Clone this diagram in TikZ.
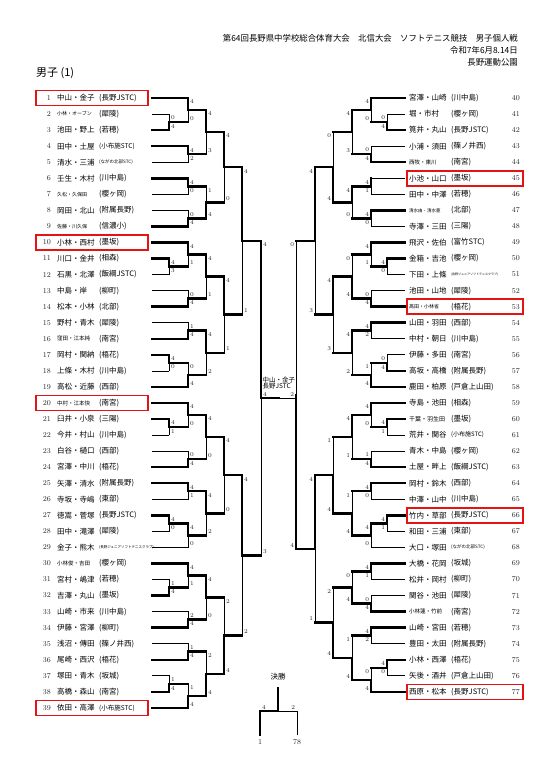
\documentclass[tikz,border=0pt]{standalone}
\usepackage{fontspec}
\newfontfamily\jp{Noto Sans CJK JP}
\usetikzlibrary{calc}
\newcommand\fz[1]{\fontsize{#1}{#1}\selectfont}
\definecolor{boxred}{RGB}{228,20,20}
\tikzset{
  thk/.style={line width=2.5pt, line cap=rect},
  thn/.style={line width=0.7pt, line cap=rect},
  sc/.style={inner sep=0pt, font=\fz{6}, text=black!85},
  scLT/.style={sc, anchor=north west, xshift=1.8pt, yshift=-1.6pt},
  scLB/.style={sc, anchor=south west, xshift=1.8pt, yshift=1.6pt},
  scRT/.style={sc, anchor=north east, xshift=-1.8pt, yshift=-1.6pt},
  scRB/.style={sc, anchor=south east, xshift=-1.8pt, yshift=1.6pt},
  nametxt/.style={anchor=west, inner sep=0pt, font=\jp\fz{7.5}},
  numtxt/.style={inner sep=0pt, font=\fz{7.5}, text=black!85},
  redbox/.style={draw=boxred, line width=1.6pt},
  hdr/.style={anchor=east, inner sep=0pt, font=\jp\fz{8.4}}
}
% match: name, top feeder, bottom feeder, x of vertical, top score, bottom score, top feed style, bottom feed style, side
\newcommand\mt[9]{%
  \coordinate (#1v) at (#4,0);
  \coordinate (#1a) at (#2 -| #1v);
  \coordinate (#1b) at (#3 -| #1v);
  \coordinate (#1) at ($(#1a)!0.5!(#1b)$);
  \draw[#7] (#2) -- (#1a);
  \draw[#8] (#3) -- (#1b);
  \ifnum#5>#6\relax
    \draw[thk] (#1a) -- (#1); \draw[thn] (#1) -- (#1b);
  \else
    \draw[thn] (#1a) -- (#1); \draw[thk] (#1) -- (#1b);
  \fi
  \node[sc#9T] (#1st) at (#1a) {#5};
  \node[sc#9B] (#1sb) at (#1b) {#6};
}
\newcommand\lent[3]{%
  \node[numtxt, anchor=east] (nL#1) at ($(L#1)+(-101,0)$) {#1};
  \node[nametxt] (tL#1) at ($(L#1)+(-95,0)$) {#2};
  \node[nametxt] (aL#1) at ($(L#1)+(-53,0)$) {#3};
}
\newcommand\rent[3]{%
  \node[nametxt] (tR#1) at ($(R#1)+(4,0)$) {#2};
  \node[nametxt] (aR#1) at ($(R#1)+(46,0)$) {#3};
  \node[numtxt, anchor=east] (nR#1) at ($(R#1)+(115,0)$) {#1};
}
\newcommand\lbox[1]{\draw[redbox] ($(L#1)+(-116,-7.5)$) rectangle ($(L#1)+(-4,7.5)$);}
\newcommand\rbox[1]{\draw[redbox] ($(R#1)+(2,-7.5)$) rectangle ($(R#1)+(118,7.5)$);}
\begin{document}
\begin{tikzpicture}[x=1pt, y=-1pt]
\fill[white] (0,0) rectangle (547,758);
\useasboundingbox (0,0) rectangle (547,758);

% header
\node[hdr] (h1) at (518,38) {第64回長野県中学校総合体育大会　北信大会　ソフトテニス競技　男子個人戦};
\node[hdr] (h2) at (518,50) {令和7年6月8.14日};
\node[hdr] (h3) at (518,62) {長野運動公園};
\node[anchor=west, inner sep=0pt, font=\jp\fz{11}] (title) at (36,73) {男子 (1)};

% entry coordinates
\foreach \i in {1,...,39} { \coordinate (L\i) at (152, {98+(\i-1)*16.05}); }
\foreach \i in {40,...,77} { \coordinate (R\i) at (405, {98+(\i-40)*16.05}); }

% left entries
\lent{1}{中山・金子}{(長野JSTC)}
\lent{2}{\fz{5}小林・オーブン}{(犀陵)}
\lent{3}{池田・野上}{(若穂)}
\lent{4}{田中・土屋}{\fz{6.5}(小布施STC)}
\lent{5}{清水・三浦}{\fz{4.5}(ながの北部STC)}
\lent{6}{壬生・木村}{(川中島)}
\lent{7}{\fz{5}久松・久保田}{(櫻ヶ岡)}
\lent{8}{岡田・北山}{(附属長野)}
\lent{9}{\fz{5}佐藤・川久保}{(信濃小)}
\lent{10}{小林・西村}{(墨坂)}
\lent{11}{川口・金井}{(相森)}
\lent{12}{石黒・北澤}{(飯綱JSTC)}
\lent{13}{中島・岸}{(柳町)}
\lent{14}{松本・小林}{(北部)}
\lent{15}{野村・青木}{(犀陵)}
\lent{16}{\fz{5.5}窪田・江本純}{(南宮)}
\lent{17}{岡村・関納}{(梧花)}
\lent{18}{上條・木村}{(川中島)}
\lent{19}{高松・近藤}{(西部)}
\lent{20}{\fz{5.5}中村・江本快}{(南宮)}
\lent{21}{臼井・小泉}{(三陽)}
\lent{22}{今井・村山}{(川中島)}
\lent{23}{白谷・樋口}{(西部)}
\lent{24}{宮澤・中川}{(梧花)}
\lent{25}{矢澤・清水}{(附属長野)}
\lent{26}{寺坂・寺嶋}{(東部)}
\lent{27}{徳嵩・菅塚}{(長野JSTC)}
\lent{28}{田中・滝澤}{(犀陵)}
\lent{29}{金子・熊木}{\fz{3.5}(長野ジュニアソフトテニスクラブ)}
\lent{30}{\fz{5.5}小林俊・吉田}{(櫻ヶ岡)}
\lent{31}{宮村・嶋津}{(若穂)}
\lent{32}{吉澤・丸山}{(墨坂)}
\lent{33}{山崎・市来}{(川中島)}
\lent{34}{伊藤・宮澤}{(柳町)}
\lent{35}{浅沼・傳田}{(篠ノ井西)}
\lent{36}{尾崎・西沢}{(梧花)}
\lent{37}{塚田・青木}{(坂城)}
\lent{38}{高橋・森山}{(南宮)}
\lent{39}{依田・高澤}{\fz{6.5}(小布施STC)}
\lbox{1}\lbox{10}\lbox{20}\lbox{39}

% right entries
\rent{40}{宮澤・山崎}{(川中島)}
\rent{41}{堀・市村}{(櫻ヶ岡)}
\rent{42}{筧井・丸山}{(長野JSTC)}
\rent{43}{小浦・須田}{(篠ノ井西)}
\rent{44}{\fz{5.5}西牧・東川}{(南宮)}
\rent{45}{小池・山口}{(墨坂)}
\rent{46}{田中・中澤}{(若穂)}
\rent{47}{\fz{4.5}清水由・清水亜}{(北部)}
\rent{48}{寺澤・三田}{(三陽)}
\rent{49}{飛沢・佐伯}{(富竹STC)}
\rent{50}{金箱・吉池}{(櫻ヶ岡)}
\rent{51}{下田・上條}{\fz{3}(長野ジュニアソフトテニスクラブ)}
\rent{52}{池田・山地}{(犀陵)}
\rent{53}{\fz{5}髙田・小林省}{(梧花)}
\rent{54}{山田・羽田}{(西部)}
\rent{55}{中村・朝日}{(川中島)}
\rent{56}{伊藤・多田}{(南宮)}
\rent{57}{高坂・高橋}{(附属長野)}
\rent{58}{鹿田・柏原}{(戸倉上山田)}
\rent{59}{寺島・池田}{(相森)}
\rent{60}{\fz{6}千葉・羽生田}{(墨坂)}
\rent{61}{荒井・関谷}{\fz{6}(小布施STC)}
\rent{62}{青木・中島}{(櫻ヶ岡)}
\rent{63}{土屋・畔上}{(飯綱JSTC)}
\rent{64}{岡村・鈴木}{(西部)}
\rent{65}{中澤・山中}{(川中島)}
\rent{66}{竹内・草部}{(長野JSTC)}
\rent{67}{和田・三浦}{(東部)}
\rent{68}{大口・塚田}{\fz{4.5}(ながの北部STC)}
\rent{69}{大橋・花岡}{(坂城)}
\rent{70}{松井・岡村}{(柳町)}
\rent{71}{関谷・池田}{(犀陵)}
\rent{72}{\fz{5.5}小林蓮・竹前}{(南宮)}
\rent{73}{山崎・宮田}{(若穂)}
\rent{74}{豊田・太田}{(附属長野)}
\rent{75}{小林・西澤}{(梧花)}
\rent{76}{矢後・酒井}{(戸倉上山田)}
\rent{77}{西原・松本}{(長野JSTC)}
\rbox{45}\rbox{53}\rbox{66}\rbox{77}

% ---------- left bracket ----------
\mt{p23}{L2}{L3}{169}{0}{4}{thn}{thk}{L}
\mt{p1112}{L11}{L12}{169}{4}{3}{thk}{thn}{L}
\mt{p1718}{L17}{L18}{169}{4}{0}{thk}{thn}{L}
\mt{p2122}{L21}{L22}{169}{4}{1}{thk}{thn}{L}
\mt{p2728}{L27}{L28}{169}{4}{0}{thk}{thn}{L}
\mt{p3132}{L31}{L32}{169}{1}{4}{thn}{thk}{L}
\mt{p3738}{L37}{L38}{169}{1}{4}{thn}{thk}{L}
\mt{m1}{L1}{p23}{188}{4}{0}{thk}{thk}{L}
\mt{m2}{L4}{L5}{188}{4}{2}{thk}{thn}{L}
\mt{m3}{L6}{L7}{188}{4}{0}{thk}{thn}{L}
\mt{m4}{L8}{L9}{188}{0}{4}{thn}{thk}{L}
\mt{m5}{L10}{p1112}{188}{4}{1}{thk}{thk}{L}
\mt{m6}{L13}{L14}{188}{0}{4}{thn}{thk}{L}
\mt{m7}{L15}{L16}{188}{1}{4}{thn}{thk}{L}
\mt{m8}{p1718}{L19}{188}{0}{4}{thk}{thk}{L}
\mt{m9}{L20}{p2122}{188}{4}{0}{thk}{thk}{L}
\mt{m10}{L23}{L24}{188}{0}{4}{thn}{thk}{L}
\mt{m11}{L25}{L26}{188}{4}{1}{thk}{thn}{L}
\mt{m12}{p2728}{L29}{188}{4}{0}{thk}{thn}{L}
\mt{m13}{L30}{p3132}{188}{4}{1}{thk}{thk}{L}
\mt{m14}{L33}{L34}{188}{2}{4}{thn}{thk}{L}
\mt{m15}{L35}{L36}{188}{1}{4}{thn}{thk}{L}
\mt{m16}{p3738}{L39}{188}{1}{4}{thk}{thk}{L}
\mt{n1}{m1}{m2}{206}{4}{3}{thk}{thk}{L}
\mt{n2}{m3}{m4}{206}{1}{4}{thk}{thk}{L}
\mt{n3}{m5}{m6}{206}{4}{1}{thk}{thk}{L}
\mt{n4}{m7}{m8}{206}{4}{2}{thk}{thk}{L}
\mt{n5}{m9}{m10}{206}{4}{0}{thk}{thk}{L}
\mt{n6}{m11}{m12}{206}{4}{2}{thk}{thk}{L}
\mt{n7}{m13}{m14}{206}{4}{0}{thk}{thk}{L}
\mt{n8}{m15}{m16}{206}{2}{4}{thk}{thk}{L}
\mt{q1}{n1}{n2}{224}{4}{0}{thk}{thk}{L}
\mt{q2}{n3}{n4}{224}{4}{1}{thk}{thk}{L}
\mt{q3}{n5}{n6}{224}{4}{0}{thk}{thk}{L}
\mt{q4}{n7}{n8}{224}{2}{4}{thk}{thk}{L}
\mt{r1}{q1}{q2}{242}{4}{1}{thk}{thk}{L}
\mt{r2}{q3}{q4}{242}{4}{2}{thk}{thk}{L}
\mt{sL}{r1}{r2}{261}{4}{3}{thk}{thk}{L}

% ---------- right bracket ----------
\mt{P4142}{R41}{R42}{387}{0}{4}{thn}{thk}{R}
\mt{P5051}{R50}{R51}{387}{4}{0}{thk}{thn}{R}
\mt{P5657}{R56}{R57}{387}{0}{4}{thn}{thk}{R}
\mt{P6061}{R60}{R61}{387}{4}{1}{thk}{thn}{R}
\mt{P6667}{R66}{R67}{387}{4}{1}{thk}{thn}{R}
\mt{P7576}{R75}{R76}{387}{4}{0}{thk}{thn}{R}
\mt{M1}{R40}{P4142}{371}{4}{0}{thk}{thk}{R}
\mt{M2}{R43}{R44}{371}{0}{4}{thn}{thk}{R}
\mt{M3}{R45}{R46}{371}{4}{1}{thn}{thn}{R}
\mt{M4}{R47}{R48}{371}{4}{0}{thk}{thn}{R}
\mt{M5}{R49}{P5051}{371}{4}{1}{thk}{thk}{R}
\mt{M6}{R52}{R53}{371}{0}{4}{thn}{thk}{R}
\mt{M7}{R54}{R55}{371}{4}{2}{thk}{thn}{R}
\mt{M8}{P5657}{R58}{371}{1}{4}{thk}{thk}{R}
\mt{M9}{R59}{P6061}{371}{4}{0}{thk}{thk}{R}
\mt{M10}{R62}{R63}{371}{1}{4}{thn}{thk}{R}
\mt{M11}{R64}{R65}{371}{4}{0}{thk}{thn}{R}
\mt{M12}{P6667}{R68}{371}{4}{0}{thk}{thn}{R}
\mt{M13}{R69}{R70}{371}{4}{1}{thk}{thn}{R}
\mt{M14}{R71}{R72}{371}{0}{4}{thn}{thk}{R}
\mt{M15}{R73}{R74}{371}{4}{2}{thk}{thn}{R}
\mt{M16}{P7576}{R77}{371}{0}{4}{thk}{thk}{R}
\mt{N1}{M1}{M2}{352}{4}{3}{thk}{thk}{R}
\mt{N2}{M3}{M4}{352}{4}{0}{thk}{thk}{R}
\mt{N3}{M5}{M6}{352}{0}{4}{thk}{thk}{R}
\mt{N4}{M7}{M8}{352}{4}{2}{thk}{thk}{R}
\mt{N5}{M9}{M10}{352}{4}{1}{thk}{thk}{R}
\mt{N6}{M11}{M12}{352}{1}{4}{thk}{thk}{R}
\mt{N7}{M13}{M14}{352}{0}{4}{thk}{thk}{R}
\mt{N8}{M15}{M16}{352}{1}{4}{thk}{thk}{R}
\mt{Q1}{N1}{N2}{333}{0}{4}{thk}{thk}{R}
\mt{Q2}{N3}{N4}{333}{4}{3}{thk}{thk}{R}
\mt{Q3}{N5}{N6}{333}{1}{4}{thk}{thk}{R}
\mt{Q4}{N7}{N8}{333}{2}{4}{thk}{thk}{R}
\mt{S1}{Q1}{Q2}{315}{4}{3}{thk}{thk}{R}
\mt{S2}{Q3}{Q4}{315}{4}{1}{thk}{thk}{R}
\mt{sR}{S1}{S2}{296}{0}{4}{thk}{thk}{R}

% ---------- centre final line ----------
\coordinate (F1) at (sL);
\coordinate (F3) at (sL -| sRv);
\coordinate (F2) at ($(F1)!0.5!(F3)$);
\draw[thk] (F1) -- (F2);
\draw[thn] (F2) -- (F3);
\node[anchor=south west, inner sep=0pt, font=\jp\fz{6.5}, align=left] (champ) at ($(F1)+(1.5,-8.5)$) {中山・金子\\長野JSTC};
\node[scLB] (F1s) at (F1) {4};
\node[scRB] (F3s) at (F3) {2};

% ---------- 決勝 ----------
\node[inner sep=0pt, font=\jp\fz{7.5}] (kessho) at (278,677) {決勝};
\coordinate (fT) at (278,687);
\coordinate (fM) at (278,711);
\coordinate (fL) at (260,711);
\coordinate (fR) at (297,711);
\coordinate (fLb) at (260,735);
\coordinate (fRb) at (297,735);
\draw[thk, line cap=butt] (fT) -- (fM);
\draw[thk] (fM) -- (fL) -- (fLb);
\draw[thn] (fM) -- (fR) -- (fRb);
\node[scLB] (fLs) at (fL) {4};
\node[scRB] (fRs) at (fR) {2};
\node[numtxt] (f1) at (260,742) {1};
\node[numtxt] (f78) at (297,742) {78};
\end{tikzpicture}
\end{document}
